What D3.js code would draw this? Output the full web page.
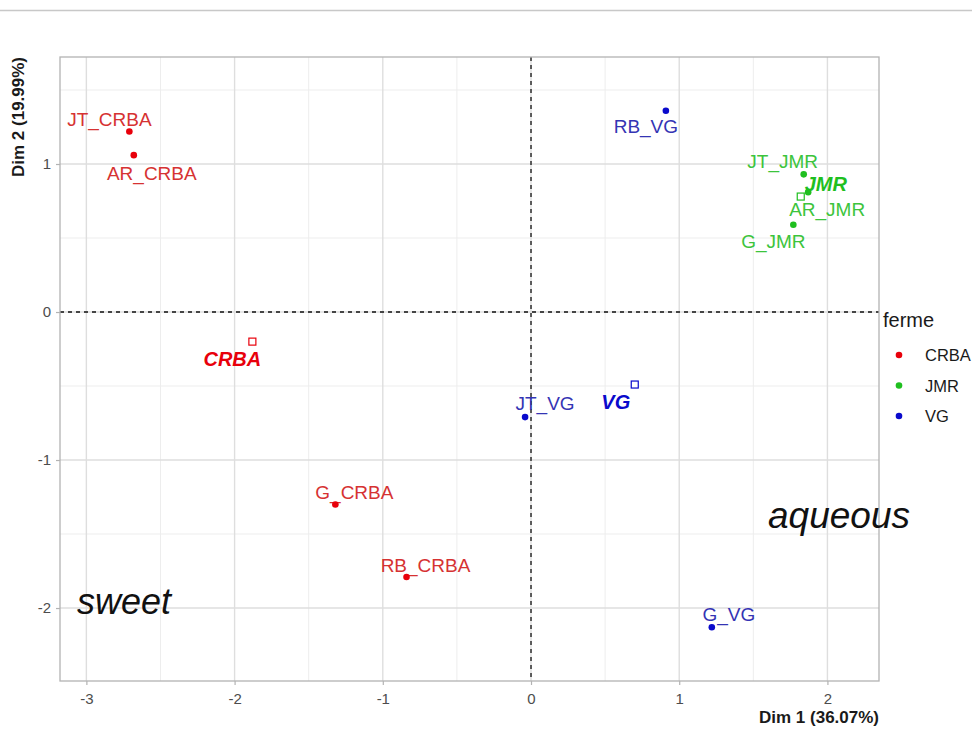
<!DOCTYPE html>
<html>
<head>
<meta charset="utf-8">
<script src="https://d3js.org/d3.v7.min.js"></script>
<style>
  body { margin: 0; background: white; }
  text { font-family: "Liberation Sans", Arial, sans-serif; }
</style>
</head>
<body>
<svg id="chart" width="972" height="749"></svg>
<script>
    // Individuals (points)
    var names  = ["JT_CRBA", "AR_CRBA", "G_CRBA", "RB_CRBA", "RB_VG", "JT_VG", "G_VG", "JT_JMR", "AR_JMR", "G_JMR"];
    var groups = ["CRBA", "CRBA", "CRBA", "CRBA", "VG", "VG", "VG", "JMR", "JMR", "JMR"];
    var dim1   = [-2.71, -2.68, -1.32, -0.84, 0.91, -0.04, 1.22, 1.84, 1.87, 1.77];
    var dim2   = [1.22, 1.06, -1.30, -1.79, 1.36, -0.71, -2.13, 0.93, 0.81, 0.59];

    // Group centroids (squares)
    var farms    = ["CRBA", "JMR", "VG"];
    var farmDim1 = [-1.88, 1.82, 0.70];
    var farmDim2 = [-0.20, 0.78, -0.49];

    var xTicks = [-3, -2, -1, 0, 1, 2];
    var yTicks = [-2, -1, 0, 1];

    // label nudges (px) as placed by repel
    var labelDx = [-20, 18, 19, 19, -20, 20, 17, -21, 19, -20];
    var labelDy = [-12, 18, -12, -11, 16, -14, -13, -13, 17, 17];
    var farmLabelDx = [-20, 25, -19];
    var farmLabelDy = [17, -13, 17];

    var colors = { CRBA: "#e8000b", JMR: "#1fbf1f", VG: "#0a0acc" };
    var textColors = { CRBA: "#d63232", JMR: "#3cc43c", VG: "#3434b4" };

    var svg = d3.select("#chart");

    // thin line at the very top
    svg.append("line").attr("x1", 0).attr("x2", 972).attr("y1", 10.5).attr("y2", 10.5)
        .attr("stroke", "#c8c8c8").attr("stroke-width", 1.5);

    var pLeft = 60, pRight = 879, pTop = 57, pBottom = 681;

    var x = d3.scaleLinear().domain([-3.178, 2.348]).range([pLeft, pRight]);
    var y = d3.scaleLinear().domain([-2.493, 1.723]).range([pBottom, pTop]);

    var g = svg.append("g");

    // minor grid
    var xMinor = [-2.5, -1.5, -0.5, 0.5, 1.5];
    var yMinor = [-1.5, -0.5, 0.5, 1.5];
    g.selectAll(".xminor").data(xMinor).enter().append("line")
        .attr("x1", d => x(d)).attr("x2", d => x(d)).attr("y1", pTop).attr("y2", pBottom)
        .attr("stroke", "#ededed").attr("stroke-width", 1);
    g.selectAll(".yminor").data(yMinor).enter().append("line")
        .attr("y1", d => y(d)).attr("y2", d => y(d)).attr("x1", pLeft).attr("x2", pRight)
        .attr("stroke", "#ededed").attr("stroke-width", 1);

    // major grid
    g.selectAll(".xmajor").data(xTicks).enter().append("line")
        .attr("x1", d => x(d)).attr("x2", d => x(d)).attr("y1", pTop).attr("y2", pBottom)
        .attr("stroke", "#dedede").attr("stroke-width", 1.4);
    g.selectAll(".ymajor").data(yTicks).enter().append("line")
        .attr("y1", d => y(d)).attr("y2", d => y(d)).attr("x1", pLeft).attr("x2", pRight)
        .attr("stroke", "#dedede").attr("stroke-width", 1.4);

    // dashed zero lines
    g.append("line").attr("x1", x(0)).attr("x2", x(0)).attr("y1", pTop).attr("y2", pBottom)
        .attr("stroke", "#111").attr("stroke-width", 1.3).attr("stroke-dasharray", "4,4");
    g.append("line").attr("y1", y(0)).attr("y2", y(0)).attr("x1", pLeft).attr("x2", pRight)
        .attr("stroke", "#111").attr("stroke-width", 1.3).attr("stroke-dasharray", "4,4");

    // panel border
    g.append("rect").attr("x", pLeft).attr("y", pTop).attr("width", pRight - pLeft).attr("height", pBottom - pTop)
        .attr("fill", "none").attr("stroke", "#b3b3b3").attr("stroke-width", 1.3);

    // axes
    var xAxis = svg.append("g").attr("transform", "translate(0," + pBottom + ")")
        .call(d3.axisBottom(x).tickValues(xTicks).tickSize(4).tickPadding(8).tickFormat(d3.format("d")));
    var yAxis = svg.append("g").attr("transform", "translate(" + pLeft + ",0)")
        .call(d3.axisLeft(y).tickValues(yTicks).tickSize(4).tickPadding(5).tickFormat(d3.format("d")));
    [xAxis, yAxis].forEach(function(a) {
        a.select(".domain").remove();
        a.selectAll(".tick line").attr("stroke", "#b3b3b3").attr("stroke-width", 1.2);
        a.selectAll(".tick text").attr("fill", "#4d4d4d").style("font-size", "15px")
            .style("font-family", "'Liberation Sans', Arial, sans-serif");
    });
    xAxis.selectAll(".tick text").text(d => d < 0 ? "-" + Math.abs(d) : d);
    yAxis.selectAll(".tick text").text(d => d < 0 ? "-" + Math.abs(d) : d);

    // axis titles
    svg.append("text").attr("x", pRight).attr("y", 723).attr("text-anchor", "end")
        .style("font-size", "17px").style("font-weight", "bold").attr("fill", "#1a1a1a")
        .text("Dim 1 (36.07%)");
    svg.append("text").attr("transform", "translate(24," + pTop + ") rotate(-90)").attr("text-anchor", "end")
        .style("font-size", "17px").style("font-weight", "bold").attr("fill", "#1a1a1a")
        .text("Dim 2 (19.99%)");

    // points
    var pts = names.map(function(n, i) { return { name: n, group: groups[i], x: dim1[i], y: dim2[i], dx: labelDx[i], dy: labelDy[i] }; });
    var cents = farms.map(function(f, i) { return { name: f, x: farmDim1[i], y: farmDim2[i], dx: farmLabelDx[i], dy: farmLabelDy[i] }; });

    // labels
    g.selectAll(".lab").data(pts).enter().append("text")
        .attr("x", d => x(d.x) + d.dx).attr("y", d => y(d.y) + d.dy)
        .attr("text-anchor", "middle").attr("dominant-baseline", "central")
        .attr("fill", d => textColors[d.group]).style("font-size", "19px")
        .text(d => d.name);
    g.selectAll(".clab").data(cents).enter().append("text")
        .attr("x", d => x(d.x) + d.dx).attr("y", d => y(d.y) + d.dy)
        .attr("text-anchor", "middle").attr("dominant-baseline", "central")
        .attr("fill", d => colors[d.name]).style("font-size", "20px")
        .style("font-weight", "bold").style("font-style", "italic")
        .text(d => d.name);

    g.selectAll(".dot").data(pts).enter().append("circle")
        .attr("cx", d => x(d.x)).attr("cy", d => y(d.y)).attr("r", 3.3)
        .attr("fill", d => colors[d.group]);
    g.selectAll(".cen").data(cents).enter().append("rect")
        .attr("x", d => x(d.x) - 3.5).attr("y", d => y(d.y) - 3.5).attr("width", 7).attr("height", 7)
        .attr("fill", "white").attr("stroke", d => colors[d.name]).attr("stroke-width", 1.2);

    // annotations
    svg.append("text").attr("x", 77).attr("y", 614).style("font-size", "36px").style("font-style", "italic")
        .attr("fill", "#111").text("sweet");
    svg.append("text").attr("x", 768).attr("y", 528).style("font-size", "37px").style("font-style", "italic")
        .attr("fill", "#111").text("aqueous");

    // legend
    var leg = svg.append("g").attr("transform", "translate(883,0)");
    leg.append("text").attr("x", 0).attr("y", 327).style("font-size", "20px").attr("fill", "#1a1a1a").text("ferme");
    farms.forEach(function(f, i) {
        leg.append("circle").attr("cx", 16).attr("cy", 355 + i * 30.5).attr("r", 3.3).attr("fill", colors[f]);
        leg.append("text").attr("x", 42).attr("y", 355 + i * 30.5).attr("dominant-baseline", "central")
            .style("font-size", "16.5px").attr("fill", "#1a1a1a").text(f);
    });
</script>
</body>
</html>
